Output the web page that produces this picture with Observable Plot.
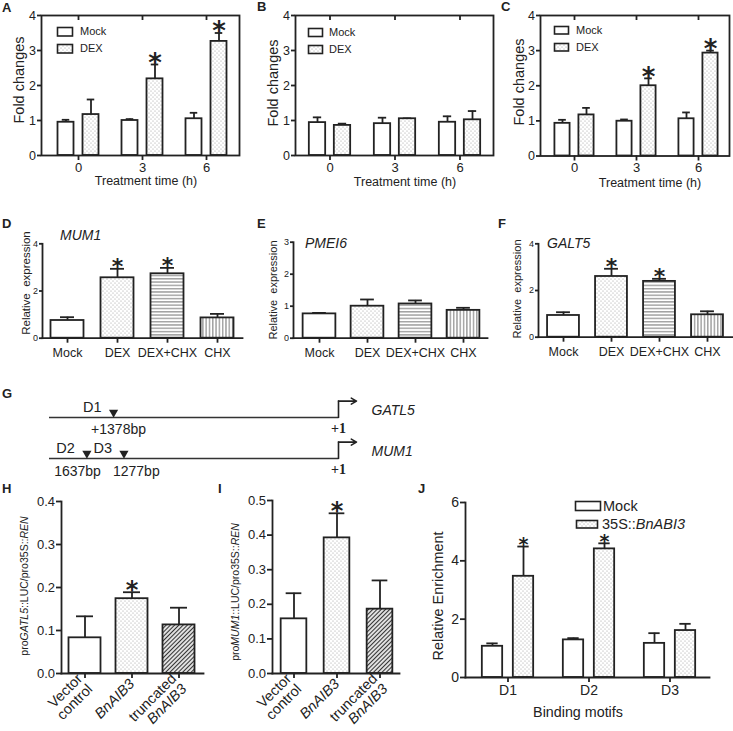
<!DOCTYPE html>
<html><head><meta charset="utf-8">
<script src="https://cdn.jsdelivr.net/npm/d3@7"></script>
<script src="https://cdn.jsdelivr.net/npm/@observablehq/plot@0.6"></script>
<style>
html,body{margin:0;padding:0;background:#fff;}
#fig{position:relative;width:733px;height:731px;overflow:hidden;font-family:"Liberation Sans",Arial,sans-serif;color:#222;background:#fff;}
#fig svg.layer{position:absolute;left:0;top:0;}
.lbl{position:absolute;white-space:nowrap;line-height:1;}
</style></head><body>
<svg width="0" height="0" style="position:absolute">
 <defs>
  <pattern id="dots" width="4" height="4" patternUnits="userSpaceOnUse">
   <rect width="4" height="4" fill="#fff"/>
   <circle cx="1" cy="1" r="0.55" fill="#999"/>
   <circle cx="3" cy="3" r="0.55" fill="#999"/>
  </pattern>
  <pattern id="hlines" width="4" height="3.3" patternUnits="userSpaceOnUse">
   <rect width="4" height="3.3" fill="#fff"/>
   <line x1="0" y1="1.6" x2="4" y2="1.6" stroke="#666" stroke-width="0.9"/>
  </pattern>
  <pattern id="vlines" width="3.3" height="4" patternUnits="userSpaceOnUse">
   <rect width="3.3" height="4" fill="#fff"/>
   <line x1="1.6" y1="0" x2="1.6" y2="4" stroke="#666" stroke-width="0.9"/>
  </pattern>
  <pattern id="diag" width="3" height="6" patternUnits="userSpaceOnUse" patternTransform="rotate(45)">
   <rect width="3" height="6" fill="#fff"/>
   <line x1="1.5" y1="0" x2="1.5" y2="6" stroke="#333" stroke-width="1.3"/>
  </pattern>
 </defs>
</svg>
<div id="fig"></div>
<script>
// ---------------- data ----------------
const timeLabels = ["0", "3", "6"];
// Panel A
const mockA = [0.95, 1.00, 1.05], mockAErr = [0.07, 0.04, 0.17];
const dexA = [1.17, 2.19, 3.26], dexAErr = [0.43, 0.41, 0.24];
const sigA = [false, true, true];
// Panel B
const mockB = [0.94, 0.91, 0.95], mockBErr = [0.15, 0.17, 0.17];
const dexB = [0.86, 1.05, 1.02], dexBErr = [0.05, 0.01, 0.25];
// Panel C
const mockC = [0.93, 0.99, 1.06], mockCErr = [0.10, 0.05, 0.18];
const dexC = [1.17, 2.00, 2.93], dexCErr = [0.20, 0.21, 0.07];
const sigC = [false, true, true];
// Panels D-F
const treatments = ["Mock", "DEX", "DEX+CHX", "CHX"];
const mum1 = [0.75, 2.56, 2.73, 0.86], mum1Err = [0.14, 0.38, 0.25, 0.17], mum1Sig = [false, true, true, false];
const pmei6 = [0.76, 1.00, 1.07, 0.87], pmei6Err = [0.03, 0.21, 0.11, 0.08];
const galt5 = [0.93, 2.60, 2.39, 0.96], galt5Err = [0.14, 0.33, 0.11, 0.15], galt5Sig = [false, true, true, false];
// Panel G
const genes = ["GATL5", "MUM1"];
const promoterStart = [-2000, -2000];
const tssPos = [0, 0];
const motifs = ["D1", "D2", "D3"];
const motifGene = ["GATL5", "MUM1", "MUM1"];
const motifPos = [-1378, -1637, -1277];
const motifPosLabel = ["+1378bp", "1637bp", "1277bp"];
// Panels H-I
const constructs = ["Vector\ncontrol", "BnAIB3", "truncated\nBnAIB3"];
const gatl5Luc = [0.083, 0.174, 0.113], gatl5LucErr = [0.050, 0.015, 0.040], gatl5LucSig = [false, true, false];
const mum1Luc = [0.158, 0.392, 0.186], mum1LucErr = [0.074, 0.071, 0.083], mum1LucSig = [false, true, false];
// Panel J
const bindingMotifs = ["D1", "D2", "D3"];
const mockJ = [1.07, 1.29, 1.17], mockJErr = [0.10, 0.06, 0.35];
const abiJ = [3.47, 4.41, 1.61], abiJErr = [1.02, 0.19, 0.23];
const sigJ = [true, true, false];

// ---------------- helpers ----------------
const fig = document.getElementById("fig");
const ink = "#222";
const SW = 1.8;
const FONT = "'Liberation Sans', Arial, sans-serif";
const WHITE = "#ffffff", DOTS = "url(#dots)", HL = "url(#hlines)", VL = "url(#vlines)", DIAG = "url(#diag)";

function txt(content, x, y, o = {}) {
  const el = document.createElement("div");
  el.className = "lbl";
  el.innerHTML = content;
  const s = el.style;
  s.left = x + "px"; s.top = y + "px";
  s.fontSize = (o.size || 12) + "px";
  if (o.bold) s.fontWeight = "bold";
  if (o.italic) s.fontStyle = "italic";
  const tx = o.anchor === "start" ? "0" : o.anchor === "end" ? "-100%" : "-50%";
  s.transform = `translate(${tx},-50%)` + (o.rotate ? ` rotate(${o.rotate}deg)` : "");
  fig.appendChild(el);
}

function legendItem(x, y, w, h, fill, label, size, textX) {
  const NS = "http://www.w3.org/2000/svg";
  const svg = document.createElementNS(NS, "svg");
  svg.setAttribute("width", w + 3); svg.setAttribute("height", h + 3);
  svg.style.position = "absolute"; svg.style.left = (x - 1.5) + "px"; svg.style.top = (y - 1.5) + "px";
  const r = document.createElementNS(NS, "rect");
  r.setAttribute("x", 1.5); r.setAttribute("y", 1.5); r.setAttribute("width", w); r.setAttribute("height", h);
  r.setAttribute("fill", fill); r.setAttribute("stroke", ink); r.setAttribute("stroke-width", 1.6);
  svg.appendChild(r); fig.appendChild(svg);
  txt(label, textX, y + h / 2, {size, anchor: "start"});
}

function barPanel(cfg) {
  const {cats, series, frame, yDomain, yTicks, range, barW, off = 0, capW, yFont, xFont,
         boxed = false, starFont = 22, starGap = 8, fmt = "d", xTickRotate, xTickPadding = 3, yTickSize = 4} = cfg;
  const bw = (range[1] - range[0]) / cats.length;
  const marks = [];
  series.forEach((s, k) => {
    const o = series.length > 1 ? (k === 0 ? -off : off) : 0;
    const data = cats.map((c, i) => ({
      c, v: s.values[i], top: s.values[i] + s.errs[i],
      sig: s.sig ? s.sig[i] : false,
      f: Array.isArray(s.fill) ? s.fill[i] : s.fill
    }));
    marks.push(Plot.ruleX(data, {x: "c", y1: "v", y2: "top", dx: o, stroke: ink, strokeWidth: SW}));
    marks.push(Plot.tickY(data, {x: "c", y: "top", dx: o, insetLeft: bw / 2 - capW / 2, insetRight: bw / 2 - capW / 2, stroke: ink, strokeWidth: SW}));
    marks.push(Plot.barY(data, {x: "c", y: "v", fill: "f", stroke: ink, strokeWidth: SW,
      insetLeft: bw / 2 + o - barW / 2, insetRight: bw / 2 - o - barW / 2}));
    marks.push(Plot.text(data.filter(d => d.sig), {x: "c", y: "top", text: () => "*", dx: o,
      dy: 0.59 * starFont - starGap, lineAnchor: "bottom", fontSize: starFont, fontWeight: "bold",
      fontFamily: "DejaVu Sans", fill: ink}));
  });
  if (boxed) {
    marks.push(Plot.frame({stroke: ink, strokeWidth: 1.8}));
    marks.push(Plot.axisX({anchor: "top", tickSize: 4, dy: 4, strokeWidth: SW, tickFormat: () => "", label: null}));
  } else {
    marks.push(Plot.frame({anchor: "left", stroke: ink, strokeWidth: 1.8}));
    marks.push(Plot.frame({anchor: "bottom", stroke: ink, strokeWidth: 1.8}));
  }
  marks.push(Plot.axisY({ticks: yTicks, tickSize: yTickSize, tickPadding: 1.5, fontSize: yFont, strokeWidth: SW, tickFormat: fmt, label: null}));
  marks.push(Plot.axisX({tickSize: 5, tickPadding: xTickPadding, fontSize: xFont, strokeWidth: SW, label: null, tickRotate: xTickRotate}));
  const svg = Plot.plot({
    width: 733, height: 731,
    marginLeft: frame[0], marginRight: 733 - frame[1], marginTop: frame[2], marginBottom: 731 - frame[3],
    x: {type: "band", domain: cats, range, padding: 0},
    y: {domain: yDomain},
    color: {type: "identity"},
    style: {background: "none", color: ink, fontFamily: FONT, overflow: "visible"},
    marks
  });
  svg.classList.add("layer");
  fig.appendChild(svg);
  return svg;
}

// ---------------- Panels A–C ----------------
barPanel({cats: timeLabels, frame: [41, 239, 15, 155], yDomain: [0, 4], yTicks: [0, 1, 2, 3, 4],
  range: [45, 238.5], barW: 16.5, off: 12.5, capW: 8, yFont: 12.5, xFont: 13, xTickPadding: 2, boxed: true, starFont: 26,
  series: [{values: mockA, errs: mockAErr, fill: WHITE}, {values: dexA, errs: dexAErr, sig: sigA, fill: DOTS}]});
barPanel({cats: timeLabels, frame: [295, 493, 15, 155], yDomain: [0, 4], yTicks: [0, 1, 2, 3, 4],
  range: [296, 493], barW: 17, off: 12.5, capW: 9, yFont: 12.5, xFont: 13, xTickPadding: 2, boxed: true, starFont: 26,
  series: [{values: mockB, errs: mockBErr, fill: WHITE}, {values: dexB, errs: dexBErr, fill: DOTS}]});
barPanel({cats: timeLabels, frame: [540, 729, 15, 155.5], yDomain: [0, 4], yTicks: [0, 1, 2, 3, 4],
  range: [542, 729], barW: 15.5, off: 12, capW: 8, yFont: 12.5, xFont: 13, xTickPadding: 2, boxed: true, starFont: 26,
  series: [{values: mockC, errs: mockCErr, fill: WHITE}, {values: dexC, errs: dexCErr, sig: sigC, fill: DOTS}]});

// ---------------- Panels D–F ----------------
const treatFill = [WHITE, DOTS, HL, VL];
barPanel({cats: treatments, frame: [42, 242, 243.3, 337.7], yDomain: [0, 4], yTicks: [0, 2, 4],
  range: [42, 242], barW: 33, capW: 14, yFont: 9, xFont: 12.5, xTickPadding: 5, yTickSize: 3, starFont: 22,
  series: [{values: mum1, errs: mum1Err, sig: mum1Sig, fill: treatFill}]});
barPanel({cats: treatments, frame: [293, 487, 241.7, 337.7], yDomain: [0, 3], yTicks: [0, 1, 2, 3],
  range: [294, 487], barW: 33, capW: 14, yFont: 9, xFont: 12.5, xTickPadding: 5, yTickSize: 3, starFont: 22,
  series: [{values: pmei6, errs: pmei6Err, fill: treatFill}]});
barPanel({cats: treatments, frame: [538, 732, 243.3, 336.7], yDomain: [0, 4], yTicks: [0, 2, 4],
  range: [539, 731.5], barW: 32, capW: 14, yFont: 9, xFont: 12.5, xTickPadding: 5, yTickSize: 3, starFont: 22,
  series: [{values: galt5, errs: galt5Err, sig: galt5Sig, fill: treatFill}]});

// ---------------- Panel G (promoter diagram, not to scale) ----------------
{
  const ARROW_BP = 200; // schematic arrow length beyond the TSS
  const RISE = 0.4;     // schematic rise of the TSS arrow (row units)
  // the drawing is broken (not to scale) between -1000 bp and the TSS
  const schematic = d3.scaleLinear().domain([-2000, -1000, 0, ARROW_BP]).range([0, 103, 289, 307]);
  const rows = genes.map((g, i) => ({gene: g, row: i, start: promoterStart[i], tss: tssPos[i]}));
  const steps = rows.flatMap(r => [{gene: r.gene, x: r.tss, y: r.row}, {gene: r.gene, x: r.tss, y: r.row - RISE}]);
  const mData = motifs.map((m, i) => ({name: m, row: genes.indexOf(motifGene[i]), pos: motifPos[i], label: motifPosLabel[i]}));
  const svg = Plot.plot({
    width: 733, height: 731, margin: 0,
    x: {type: "linear", transform: schematic, range: [49, 356], axis: null},
    y: {domain: [0, 1], range: [417, 458], axis: null},
    style: {background: "none", color: ink, fontFamily: FONT, overflow: "visible"},
    marks: [
      Plot.ruleY(rows, {y: "row", x1: "start", x2: "tss", stroke: "#333", strokeWidth: 1.5}),
      Plot.line(steps, {x: "x", y: "y", z: "gene", stroke: ink, strokeWidth: 1.6}),
      Plot.arrow(rows, {x1: "tss", x2: () => ARROW_BP, y1: r => r.row - RISE, y2: r => r.row - RISE, stroke: ink, strokeWidth: 1.6, headLength: 8}),
      Plot.dot(mData, {x: "pos", y: "row", symbol: "triangle", rotate: 180, r: 3.4, fill: ink, stroke: "none", dy: -5}),
      Plot.text(mData, {x: "pos", y: "row", text: "name", textAnchor: "end", dx: -12, dy: -10, fontSize: 14.5, fill: ink}),
      Plot.text(mData.filter(d => d.name === "D1"), {x: "pos", y: "row", text: "label", dx: 5, dy: 12, fontSize: 14, fill: ink}),
      Plot.text(mData.filter(d => d.name === "D2"), {x: "pos", y: "row", text: "label", textAnchor: "end", dx: 14, dy: 13, fontSize: 14, fill: ink}),
      Plot.text(mData.filter(d => d.name === "D3"), {x: "pos", y: "row", text: "label", textAnchor: "start", dx: -11, dy: 13, fontSize: 14, fill: ink}),
      Plot.text(rows, {x: "tss", y: "row", text: () => "+1", dy: 11, fontFamily: "'Liberation Serif', serif", fontWeight: "bold", fontSize: 14, fill: ink}),
      Plot.text(rows, {x: () => ARROW_BP, y: "row", text: "gene", textAnchor: "start", dx: 15, dy: -7, fontStyle: "italic", fontSize: 14, fill: ink})
    ]
  });
  svg.classList.add("layer");
  fig.appendChild(svg);
}

// ---------------- Panels H–I ----------------
function italicBn(svg) {
  svg.querySelectorAll("text, tspan").forEach(t => {
    if (t.textContent === "BnAIB3" && (t.tagName === "tspan" || t.children.length === 0)) t.style.fontStyle = "italic";
  });
}
const consFill = [WHITE, DOTS, DIAG];
italicBn(barPanel({cats: constructs, frame: [61, 203, 501, 673], yDomain: [0, 0.4], yTicks: [0, 0.1, 0.2, 0.3, 0.4], fmt: ".1f",
  range: [61, 202], barW: 32, capW: 17, yFont: 13, xFont: 14.5, xTickRotate: -45, yTickSize: 5, starFont: 24,
  series: [{values: gatl5Luc, errs: gatl5LucErr, sig: gatl5LucSig, fill: consFill}]}));
italicBn(barPanel({cats: constructs, frame: [272, 399, 500, 673], yDomain: [0, 0.5], yTicks: [0, 0.1, 0.2, 0.3, 0.4, 0.5], fmt: ".1f",
  range: [271, 401], barW: 26, capW: 16, yFont: 13, xFont: 14.5, xTickRotate: -45, yTickSize: 5, starFont: 24,
  series: [{values: mum1Luc, errs: mum1LucErr, sig: mum1LucSig, fill: consFill}]}));

// ---------------- Panel J ----------------
barPanel({cats: bindingMotifs, frame: [465, 709, 502, 677], yDomain: [0, 6], yTicks: [0, 2, 4, 6],
  range: [466, 711], barW: 21, off: 15.5, capW: 12, yFont: 14, xFont: 14, yTickSize: 5, starFont: 19, starGap: 7,
  series: [{values: mockJ, errs: mockJErr, fill: WHITE}, {values: abiJ, errs: abiJErr, sig: sigJ, fill: DOTS}]});

// ---------------- text: panel letters, titles, legends ----------------
[["A", 2, 7], ["B", 257, 6], ["C", 501, 6], ["D", 2, 222.5], ["E", 257, 223], ["F", 498, 223],
 ["G", 2, 393], ["H", 2, 487.5], ["I", 218, 487.5], ["J", 418, 487.5]].forEach(([t, x, y]) =>
  txt(t, x, y, {size: 13, bold: true, anchor: "start"}));

txt("Fold changes", 19, 80, {size: 14.5, rotate: -90});
txt("Fold changes", 273, 82.5, {size: 14.5, rotate: -90});
txt("Fold changes", 518.5, 81.5, {size: 14.5, rotate: -90});
txt("Treatment time (h)", 146, 181, {size: 12.5});
txt("Treatment time (h)", 405, 182, {size: 12.5});
txt("Treatment time (h)", 650, 182.5, {size: 12.5});

legendItem(57, 27, 15, 8.5, WHITE, "Mock", 11, 80);
legendItem(57, 44, 15, 8.5, DOTS, "DEX", 11, 80);
legendItem(308, 28, 14, 8, WHITE, "Mock", 11, 329);
legendItem(308, 45, 14, 8, DOTS, "DEX", 11, 329);
legendItem(554, 26, 14, 7.5, WHITE, "Mock", 11, 576);
legendItem(554, 43, 14, 7.5, DOTS, "DEX", 11, 576);

txt("Relative &nbsp;expression", 27, 283, {size: 11.5, rotate: -90});
txt("Relative &nbsp;expression", 273, 290, {size: 11, rotate: -90});
txt("Relative &nbsp;expression", 517, 289, {size: 11, rotate: -90});
txt("MUM1", 60, 235, {size: 14, italic: true, anchor: "start"});
txt("PMEI6", 305, 242.5, {size: 14, italic: true, anchor: "start"});
txt("GALT5", 547, 242.5, {size: 14, italic: true, anchor: "start"});

txt("pro<i>GATL5</i>::LUC/pro35S::<i>REN</i>", 24, 586, {size: 10.5, rotate: -90});
txt("pro<i>MUM1</i>::LUC/pro35S::<i>REN</i>", 235, 592, {size: 10.5, rotate: -90});

txt("Relative Enrichment", 438, 596, {size: 14.4, rotate: -90});
txt("Binding motifs", 578, 712, {size: 14.3});
legendItem(575, 501, 25, 9, WHITE, "Mock", 14.5, 603);
legendItem(576, 520.5, 21, 7.5, DOTS, "35S::<i>BnABI3</i>", 14.5, 602);
</script>
</body></html>
